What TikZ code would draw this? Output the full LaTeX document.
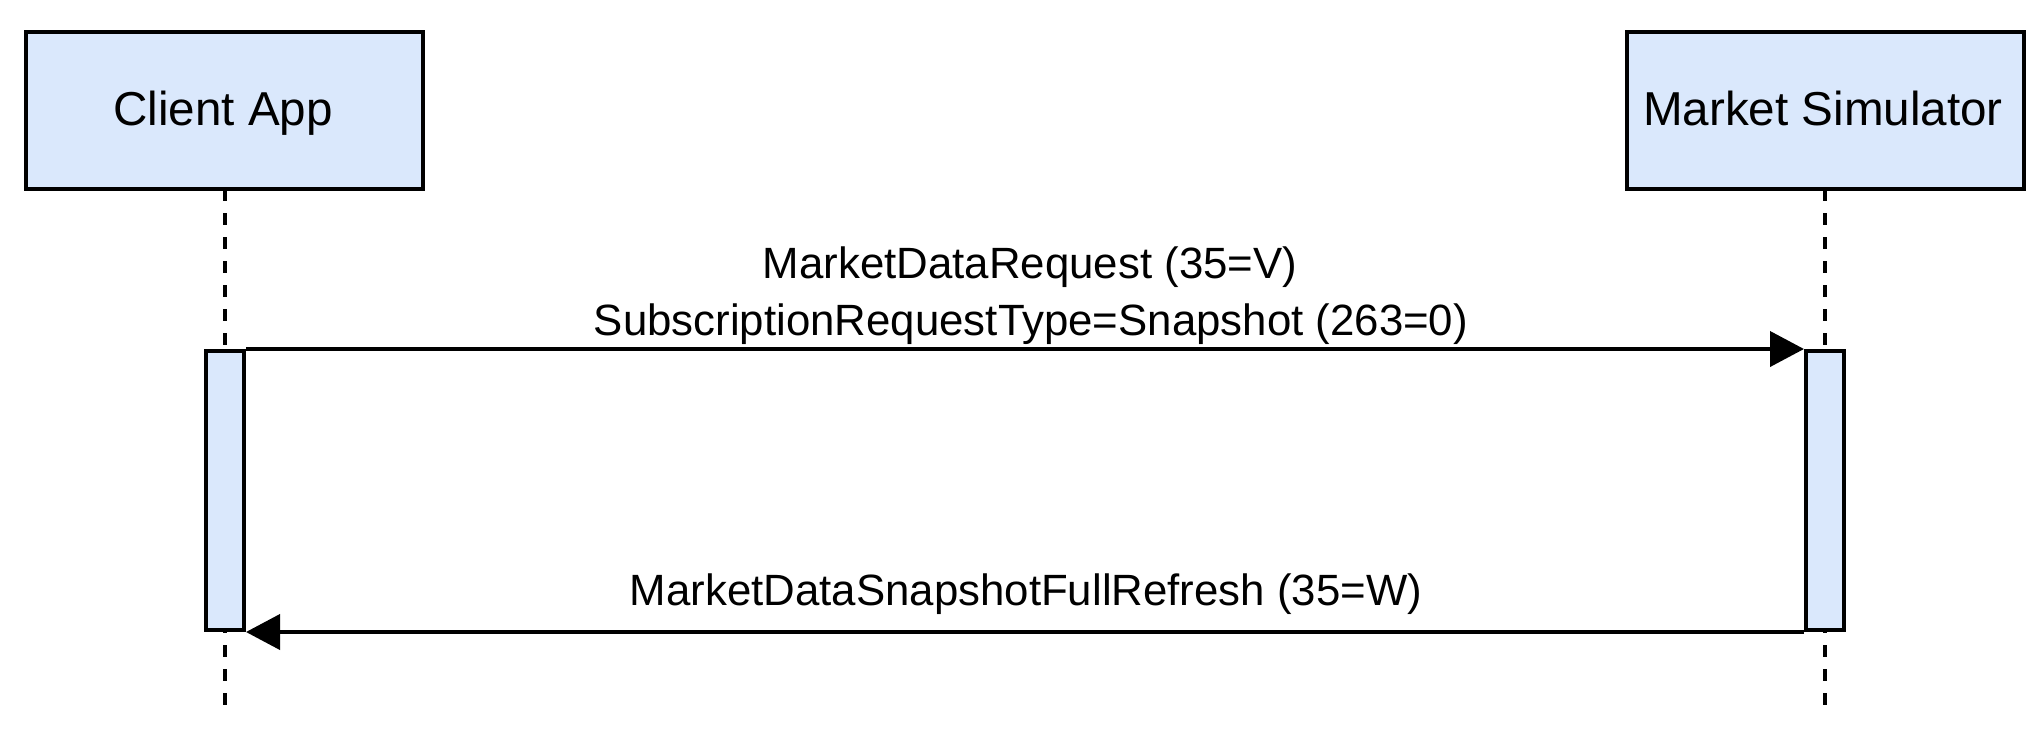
\documentclass[tikz,border=0pt]{standalone}
\usepackage{fontspec}
\setmainfont{Liberation Sans}
\usetikzlibrary{arrows.meta}
\definecolor{actfill}{HTML}{DAE8FC}
\begin{document}
\begin{tikzpicture}[x=0.5pt,y=-0.5pt,
  actor/.style={draw=black,fill=actfill,line width=2pt,inner sep=0pt,
    minimum width=198.5pt,minimum height=78.5pt},
  actbar/.style={draw=black,fill=actfill,line width=2pt,inner sep=0pt,
    minimum width=19pt,minimum height=139.5pt},
  lifeline/.style={draw=black,line width=2pt,dash pattern=on 6pt off 6pt},
  msgarrow/.style={draw=black,line width=2pt,-{Triangle[length=17pt,width=17.5pt]}},
  msglabel/.style={inner sep=0pt,anchor=base,font=\fontsize{21.9pt}{26pt}\selectfont},
  titlelabel/.style={inner sep=0pt,anchor=base,font=\fontsize{23.8pt}{28pt}\selectfont}
]
\useasboundingbox (0,0) rectangle (2041,735);
\fill[white] (0,0) rectangle (2041,735);

% lifelines (behind)
\coordinate (clientEnd) at (225,707);
\coordinate (marketEnd) at (1825,707);
\coordinate (clientTop) at (225,189);
\coordinate (marketTop) at (1825,189);
\draw[lifeline] (clientTop) -- (clientEnd);
\draw[lifeline] (marketTop) -- (marketEnd);

% actors
\node[actor] (client) at (224.5,110.5) {};
\node[actor] (market) at (1825,110.5) {};
\node[titlelabel] (clientTxt) at (223,125) {Client App};
\node[titlelabel] (marketTxt) at (1823,125) {Market Simulator};

% activation bars
\node[actbar] (barL) at (225,490.5) {};
\node[actbar] (barR) at (1825,490.5) {};

% messages
\draw[msgarrow] (barL.north east) -- (barR.north west);
\draw[msgarrow] (barR.south west) -- (barL.south east);

\node[msglabel] (m1a) at (1030,278) {MarketDataRequest (35=V)};
\node[msglabel] (m1b) at (1031,335) {SubscriptionRequestType=Snapshot (263=0)};
\node[msglabel] (m2) at (1026,605) {MarketDataSnapshotFullRefresh (35=W)};
\end{tikzpicture}
\end{document}
